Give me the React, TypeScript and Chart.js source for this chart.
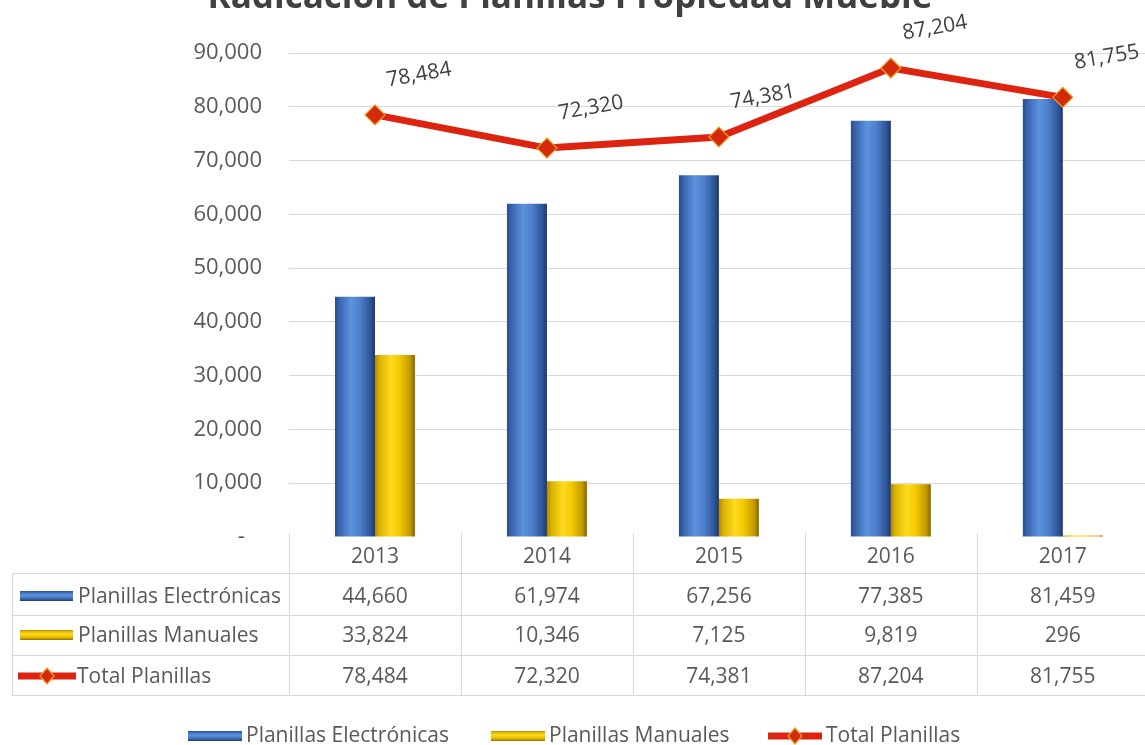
import { useEffect, useRef } from "react";
import { Chart, registerables } from "chart.js";
Chart.register(...registerables);

const TITLE = "Radicación de Planillas Propiedad Mueble";
const years = ["2013", "2014", "2015", "2016", "2017"];
const electronicas = [44660, 61974, 67256, 77385, 81459];
const manuales = [33824, 10346, 7125, 9819, 296];
const total = [78484, 72320, 74381, 87204, 81755];
const seriesNames = ["Planillas Electrónicas", "Planillas Manuales", "Total Planillas"];
const Y_MAX = 90000;
const Y_STEP = 10000;

const FONT = "'Open Sans', 'Noto Sans', sans-serif";
const TXT = "#595959";
const GRID = "#d9d9d9";
const CAT_PCT = 0.465;
const OFFSET_TOP = 30;

const BLUE_STOPS: [number, string][] = [
  [0, "#2a4c8a"], [0.12, "#3a66b0"], [0.4, "#5c92de"], [0.62, "#4e80cc"], [0.88, "#2f5699"], [1, "#1b386c"],
];
const YELLOW_STOPS: [number, string][] = [
  [0, "#b08a00"], [0.12, "#dcb400"], [0.4, "#ffda1f"], [0.62, "#f3c900"], [0.88, "#c29a00"], [1, "#866700"],
];
const RED = "#dc2410";

const fmt = (n: number) => n.toLocaleString("en-US");

function barFill(c: any, stops: [number, string][]) {
  const chart = c.chart;
  const xs = chart.scales && chart.scales.x;
  if (!xs || !chart.chartArea || c.type !== "data") return stops[2][1];
  const cw = xs.width / years.length;
  const bw = (cw * CAT_PCT) / 2;
  const center = xs.getPixelForValue(c.dataIndex);
  const left = c.datasetIndex === 0 ? center - bw : center;
  const g = chart.ctx.createLinearGradient(left, 0, left + bw, 0);
  stops.forEach(([o, col]) => g.addColorStop(o, col));
  return g;
}

function swatch(ctx: CanvasRenderingContext2D, kind: number, x: number, cy: number, w: number) {
  if (kind < 2) {
    const stops = kind === 0 ? BLUE_STOPS : YELLOW_STOPS;
    const h = 10;
    const g = ctx.createLinearGradient(0, cy - h / 2, 0, cy + h / 2);
    stops.forEach(([o, col]) => g.addColorStop(o, col));
    ctx.fillStyle = g;
    ctx.fillRect(x, cy - h / 2, w, h);
  } else {
    ctx.fillStyle = RED;
    ctx.fillRect(x, cy - 3.5, w, 7);
    const mx = x + w / 2;
    ctx.beginPath();
    ctx.moveTo(mx, cy - 8);
    ctx.lineTo(mx + 7, cy);
    ctx.lineTo(mx, cy + 8);
    ctx.lineTo(mx - 7, cy);
    ctx.closePath();
    ctx.fillStyle = "#d42a0c";
    ctx.fill();
    ctx.strokeStyle = "#f0a020";
    ctx.lineWidth = 1.2;
    ctx.stroke();
  }
}

const deco = {
  id: "deco",
  afterDatasetsDraw(chart: any) {
    const ctx = chart.ctx as CanvasRenderingContext2D;
    const meta = chart.getDatasetMeta(2);
    ctx.save();
    ctx.font = `21px ${FONT}`;
    ctx.fillStyle = "#404040";
    ctx.textAlign = "center";
    ctx.textBaseline = "middle";
    meta.data.forEach((pt: any, i: number) => {
      ctx.save();
      ctx.translate(pt.x + 44, pt.y - 40);
      ctx.rotate((-10 * Math.PI) / 180);
      ctx.fillText(fmt(total[i]), 0, 0);
      ctx.restore();
    });
    ctx.restore();
  },
  afterDraw(chart: any) {
    const ctx = chart.ctx as CanvasRenderingContext2D;
    const xs = chart.scales.x;
    const area = chart.chartArea;
    const b = area.bottom;
    const cw = xs.width / years.length;
    const W = chart.width;
    ctx.save();

    // title
    ctx.font = `bold 35px ${FONT}`;
    ctx.fillStyle = "#404040";
    ctx.textAlign = "center";
    ctx.textBaseline = "alphabetic";
    ctx.fillText(TITLE, 570, OFFSET_TOP + 8);

    // table grid
    const tableLeft = 12;
    const rowLines = [b + 36, b + 78, b + 118, b + 158];
    const rowCenters = [b + 60, b + 99, b + 140];
    ctx.strokeStyle = GRID;
    ctx.lineWidth = 1;
    ctx.beginPath();
    rowLines.forEach((y) => {
      ctx.moveTo(tableLeft, y + 0.5);
      ctx.lineTo(W, y + 0.5);
    });
    ctx.moveTo(tableLeft + 0.5, rowLines[0]);
    ctx.lineTo(tableLeft + 0.5, rowLines[3]);
    for (let i = 0; i <= years.length; i++) {
      const x = Math.round(xs.left + i * cw) + 0.5;
      ctx.moveTo(x, b - 4);
      ctx.lineTo(x, rowLines[3]);
    }
    ctx.stroke();

    // header years and values
    ctx.font = `21px ${FONT}`;
    ctx.fillStyle = TXT;
    ctx.textAlign = "center";
    ctx.textBaseline = "middle";
    const rows = [electronicas, manuales, total];
    years.forEach((yr, i) => {
      const cx = xs.getPixelForValue(i);
      ctx.fillText(yr, cx, b + 20);
      rows.forEach((r, k) => ctx.fillText(fmt(r[i]), cx, rowCenters[k]));
    });

    // row labels
    ctx.textAlign = "left";
    seriesNames.forEach((name, k) => {
      swatch(ctx, k, k === 2 ? 18 : 20, rowCenters[k] - 1, k === 2 ? 58 : 53);
      ctx.fillStyle = TXT;
      ctx.fillText(name, k === 2 ? 77 : 78, rowCenters[k]);
    });

    // legend
    const ly = b + 199;
    const legendX = [188, 491, 768];
    seriesNames.forEach((name, k) => {
      swatch(ctx, k, legendX[k], ly, 54);
      ctx.fillStyle = TXT;
      ctx.fillText(name, legendX[k] + 58, ly);
    });
    ctx.restore();
  },
};

export default function App() {
  const ref = useRef<HTMLCanvasElement>(null);
  useEffect(() => {
    if (!ref.current) return;
    const chart = new Chart(ref.current, {
      type: "bar",
      data: {
        labels: years,
        datasets: [
          {
            type: "bar",
            label: seriesNames[0],
            data: electronicas,
            backgroundColor: (c: any) => barFill(c, BLUE_STOPS),
            categoryPercentage: CAT_PCT,
            barPercentage: 1,
            order: 2,
          },
          {
            type: "bar",
            label: seriesNames[1],
            data: manuales,
            backgroundColor: (c: any) => barFill(c, YELLOW_STOPS),
            categoryPercentage: CAT_PCT,
            barPercentage: 1,
            order: 2,
          },
          {
            type: "line",
            label: seriesNames[2],
            data: total,
            borderColor: RED,
            borderWidth: 7,
            pointStyle: "rectRot",
            pointRadius: 10,
            pointBackgroundColor: "#d42a0c",
            pointBorderColor: "#f0a020",
            pointBorderWidth: 1.2,
            tension: 0,
            order: 0,
          } as any,
        ],
      },
      options: {
        animation: false,
        responsive: false,
        devicePixelRatio: 1,
        layout: { padding: { top: 53 + OFFSET_TOP, right: 11, left: 0, bottom: 0 } },
        plugins: { legend: { display: false }, title: { display: false }, tooltip: { enabled: false } },
        scales: {
          x: {
            ticks: { display: false },
            grid: { display: false },
            border: { display: false },
            afterFit: (s: any) => { s.height = 208; },
          },
          y: {
            min: 0,
            max: Y_MAX,
            ticks: {
              stepSize: Y_STEP,
              padding: 27,
              color: TXT,
              font: { family: FONT, size: 22 },
              callback: (v: any) => (Number(v) === 0 ? "-   " : fmt(Number(v))),
            },
            grid: {
              drawTicks: false,
              color: (c: any) => (c.tick && c.tick.value === 0 ? "rgba(0,0,0,0)" : GRID),
            },
            border: { display: false },
            afterFit: (s: any) => { s.width = 289; },
          },
        },
      },
      plugins: [deco],
    });
    return () => chart.destroy();
  }, []);
  return (
    <div style={{ position: "fixed", left: 0, top: 0, width: 1145, height: 745, overflow: "hidden", background: "#fff" }}>
      <canvas ref={ref} width={1160} height={775} style={{ position: "absolute", left: 0, top: -OFFSET_TOP }} />
    </div>
  );
}
